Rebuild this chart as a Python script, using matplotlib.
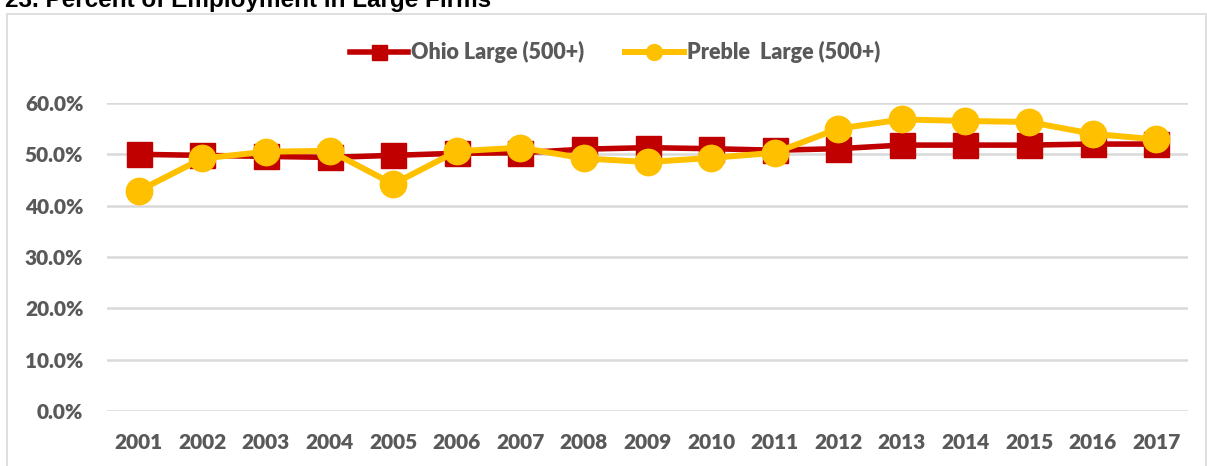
import matplotlib
matplotlib.use("Agg")
import matplotlib.pyplot as plt
from matplotlib.patches import Rectangle
from matplotlib.ticker import PercentFormatter

years = ["2001", "2002", "2003", "2004", "2005", "2006", "2007", "2008", "2009",
         "2010", "2011", "2012", "2013", "2014", "2015", "2016", "2017"]
ohio = [0.500, 0.498, 0.496, 0.494, 0.498, 0.502, 0.503, 0.510, 0.513,
        0.511, 0.508, 0.511, 0.518, 0.518, 0.518, 0.520, 0.520]
preble = [0.429, 0.492, 0.505, 0.507, 0.442, 0.506, 0.513, 0.492, 0.485,
          0.493, 0.503, 0.550, 0.568, 0.565, 0.563, 0.540, 0.529]
series_names = ["Ohio Large (500+)", "Preble  Large (500+)"]
title = "23. Percent of Employment in Large Firms"

W, H = 1207, 466
fig = plt.figure(figsize=(W / 100, H / 100), dpi=100)
fig.patch.set_facecolor("white")

tick_font = "Lato"
grey = "#595959"

# chart border
fig.patches.append(Rectangle((7 / W, -0.01), (1206 - 7) / W, 1 - 14 / H + 0.01,
                             transform=fig.transFigure, fill=False,
                             edgecolor="#D9D9D9", linewidth=1.2))

fig.text(5 / W, 1 - 7 / H, title, fontsize=17.5, fontweight="bold",
         family="Liberation Sans", color="black", va="baseline", ha="left")

ax = fig.add_axes([107 / W, 1 - 411 / H, (1188 - 107) / W, (411 - 103) / H])
x = list(range(len(years)))
ax.plot(x, ohio, color="#C00000", lw=4.0, marker="s", ms=18,
        label=series_names[0], clip_on=False, zorder=3)
ax.plot(x, preble, color="#FFC000", lw=4.3, marker="o", ms=19,
        label=series_names[1], clip_on=False, zorder=4)

ax.set_xlim(-0.5, len(years) - 0.5)
ax.set_ylim(0, 0.6)
ax.set_yticks([0, 0.1, 0.2, 0.3, 0.4, 0.5, 0.6])
ax.yaxis.set_major_formatter(PercentFormatter(1.0, decimals=1))
ax.set_xticks(x)
ax.set_xticklabels(years)
ax.grid(axis="y", color="#D9D9D9", lw=1.8)
ax.set_axisbelow(True)
for s in ax.spines.values():
    s.set_visible(False)
ax.tick_params(axis="both", length=0, labelcolor=grey)
ax.tick_params(axis="y", pad=17)
ax.tick_params(axis="x", pad=16)
for lab in ax.get_xticklabels() + ax.get_yticklabels():
    lab.set_fontfamily(tick_font)
    lab.set_fontweight("heavy")
    lab.set_fontsize(15)

leg = fig.legend(loc="center", bbox_to_anchor=(615 / W, 1 - 52 / H), ncol=2,
                 frameon=False, handlelength=2.7, columnspacing=1.9,
                 handletextpad=0.15, markerscale=0.6,
                 prop={"family": tick_font, "weight": "heavy", "size": 15.5})
for t in leg.get_texts():
    t.set_color(grey)

fig.savefig("out.png", dpi=100, facecolor="white")
